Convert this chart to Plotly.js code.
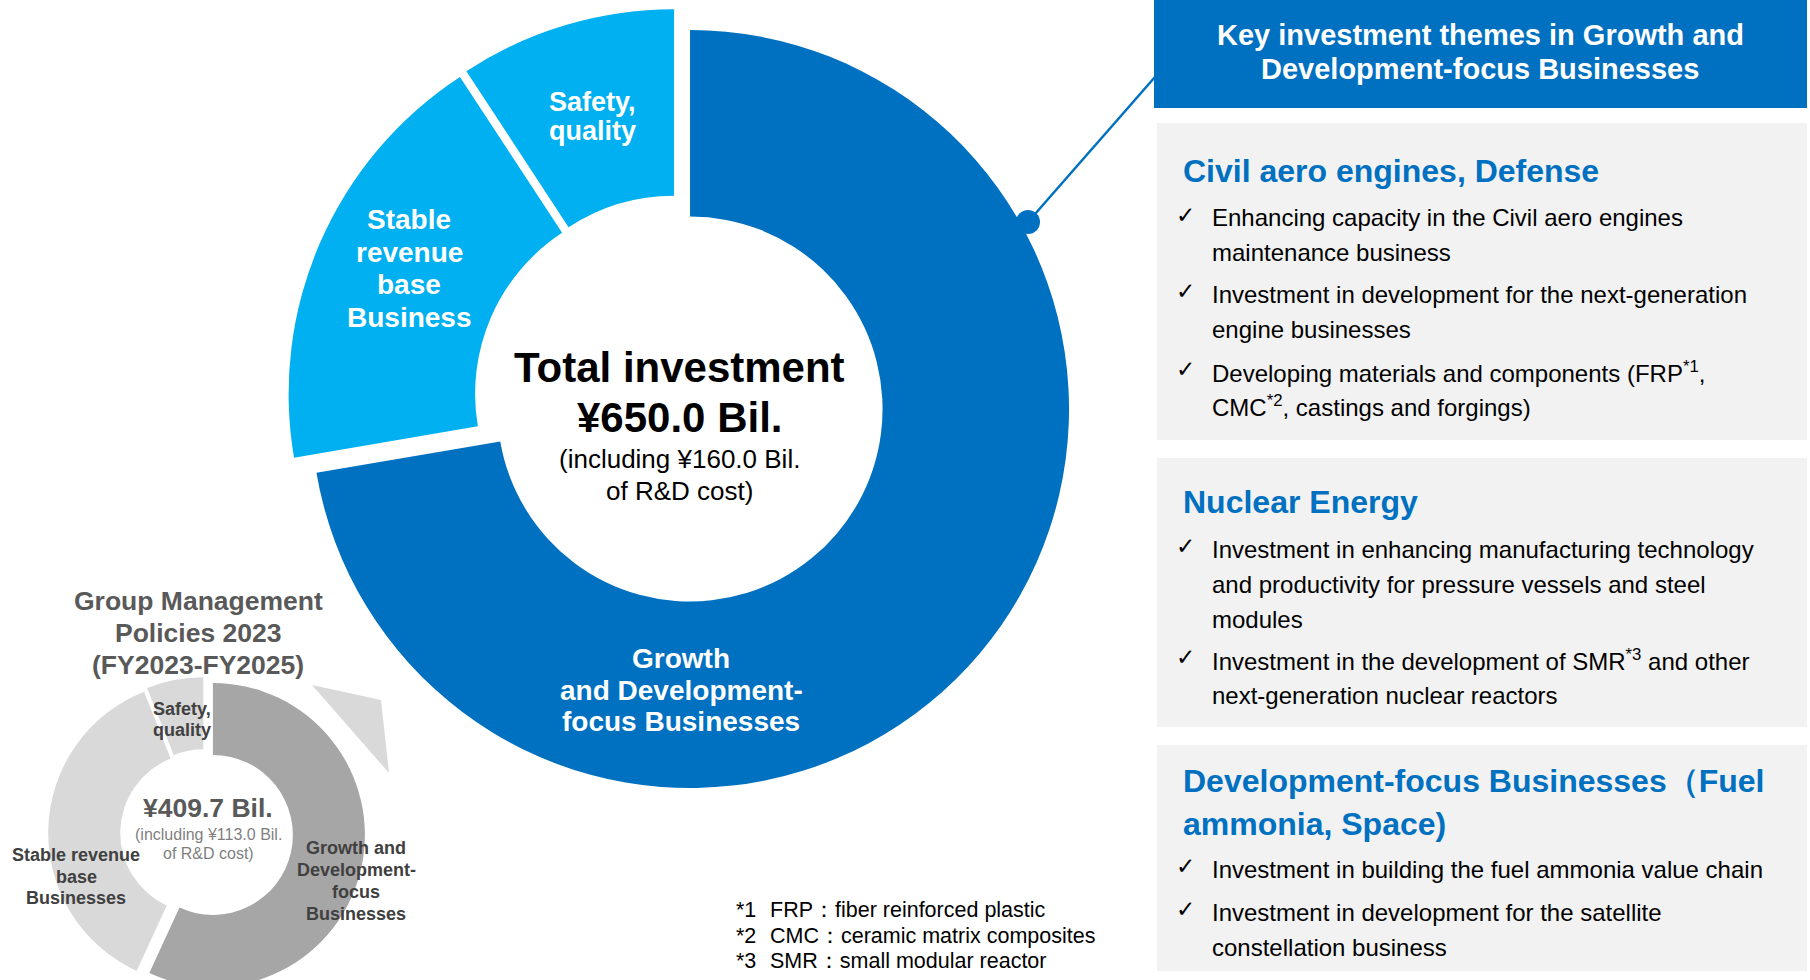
<!DOCTYPE html>
<html><head><meta charset="utf-8">
<script src="https://cdn.plot.ly/plotly-3.0.1.min.js"></script>
<style>html,body{margin:0;padding:0;overflow:hidden;background:#fff}#chart{width:1810px;height:1010px}</style>
</head><body><div id="chart"></div>
<script>
// ---------- DATA ----------
const mainLabels = ['Growth and Development-focus Businesses', 'Stable revenue base Business', 'Safety, quality'];
const mainValues = [470, 120, 60];            // ¥ Bil., total 650.0
const mainPull   = [0.045, 0.027, 0.027];
const mainColors = ['#0070C0', '#00B0F0', '#00B0F0'];
const mainSliceText = [['Growth', 'and Development-', 'focus Businesses'], ['Stable', 'revenue', 'base', 'Business'], ['Safety,', 'quality']];
const mainCenter = ['Total investment', '¥650.0 Bil.', '(including ¥160.0 Bil.', 'of R&D cost)'];

const prevLabels = ['Growth and Development-focus Businesses', 'Stable revenue base Businesses', 'Safety, quality'];
const prevValues = [233.0, 152.0, 24.7];      // ¥ Bil., total 409.7
const prevPull   = [0.06, 0.025, 0.025];
const prevColors = ['#A6A6A6', '#D9D9D9', '#D9D9D9'];
const prevSliceText = [['Growth and', 'Development-', 'focus', 'Businesses'], ['Stable revenue', 'base', 'Businesses'], ['Safety,', 'quality']];
const prevTitle = ['Group Management', 'Policies 2023', '(FY2023-FY2025)'];
const prevCenter = ['¥409.7 Bil.', '(including ¥113.0 Bil.', 'of R&D cost)'];

const headerLines = ['Key investment themes in Growth and', 'Development-focus Businesses'];
const themeHeadings = [['Civil aero engines, Defense'], ['Nuclear Energy'], ['Development-focus Businesses（Fuel', 'ammonia, Space)']];
const themeBullets = [
  [['Enhancing capacity in the Civil aero engines', 'maintenance business'],
   ['Investment in development for the next-generation', 'engine businesses'],
   ['Developing materials and components (FRP<sup>*1</sup>,', 'CMC<sup>*2</sup>, castings and forgings)']],
  [['Investment in enhancing manufacturing technology', 'and productivity for pressure vessels and steel', 'modules'],
   ['Investment in the development of SMR<sup>*3</sup> and other', 'next-generation nuclear reactors']],
  [['Investment in building the fuel ammonia value chain'],
   ['Investment in development for the satellite', 'constellation business']]
];
const footMarks = ['*1', '*2', '*3'];
const footTexts = ['FRP：fiber reinforced plastic', 'CMC：ceramic matrix composites', 'SMR：small modular reactor'];

// ---------- LAYOUT HELPERS ----------
const W = 1810, H = 1010;
const X = v => v / W, Y = v => 1 - v / H;
function dom(cx, cy, r, pull) {
  const half = r * (1 + Math.max(...pull));
  return { x: [Math.max(0, X(cx - half)), Math.min(1, X(cx + half))],
           y: [Math.max(0, Y(cy + half)), Math.min(1, Y(cy - half))] };
}
const FONT = 'Liberation Sans, Arial, Helvetica, sans-serif';
const ann = [];
function txt(x, y, s, size, color, bold, anchor, fam) {
  ann.push({ xref: 'paper', yref: 'paper', x: X(x), y: Y(y), text: bold ? '<b>' + s + '</b>' : s,
    showarrow: false, xanchor: anchor || 'center', yanchor: 'middle',
    font: { family: fam || FONT, size: size, color: color } });
}
function lines(x, ys, arr, size, color, bold, anchor) { arr.forEach((s, i) => txt(x, ys[i], s, size, color, bold, anchor)); }

// ---------- TRACES ----------
const traces = [
  { type: 'pie', labels: mainLabels, values: mainValues, pull: mainPull, hole: 0.508,
    sort: false, direction: 'clockwise', rotation: 0, textinfo: 'none', hoverinfo: 'none',
    marker: { colors: mainColors, line: { width: 0 } }, domain: dom(677, 398, 379, mainPull), showlegend: false },
  { type: 'pie', labels: prevLabels, values: prevValues, pull: prevPull, hole: 0.526,
    sort: false, direction: 'clockwise', rotation: 0, textinfo: 'none', hoverinfo: 'none',
    marker: { colors: prevColors, line: { width: 0 } }, domain: dom(204, 833, 152, prevPull), showlegend: false }
];

// ---------- TEXT ----------
// main donut
lines(681, [658, 690, 721], mainSliceText[0], 28, '#FFFFFF', true);
lines(409, [220, 252, 284, 317], mainSliceText[1], 28, '#FFFFFF', true);
lines(592, [102, 131], mainSliceText[2], 27, '#FFFFFF', true);
txt(679, 367, mainCenter[0], 42, '#000000', true);
txt(679, 418, mainCenter[1], 42, '#000000', true);
txt(679, 459, mainCenter[2], 26, '#000000', false);
txt(679, 491, mainCenter[3], 26, '#000000', false);
// previous plan donut
lines(198, [601, 633, 665], prevTitle, 26.5, '#595959', true);
txt(208, 808, prevCenter[0], 26.5, '#595959', true);
txt(208, 834, prevCenter[1], 16, '#7F7F7F', false);
txt(208, 853, prevCenter[2], 16, '#7F7F7F', false);
lines(356, [848, 870, 892, 914], prevSliceText[0], 18, '#404040', true);
lines(76, [855, 877, 898], prevSliceText[1], 18, '#404040', true);
lines(182, [709, 730], prevSliceText[2], 18, '#404040', true);
// header
lines(1480, [35, 69], headerLines, 29, '#FFFFFF', true);
// theme boxes
const headY = [[171], [502], [781, 824]];
const bulletY = [
  [[218, 252], [294, 329], [372, 406]],
  [[549, 584, 619], [660, 695]],
  [[869], [912, 947]]
];
themeHeadings.forEach((h, i) => lines(1181, headY[i], h, 32, '#0070C0', true, 'left'));
themeBullets.forEach((group, i) => group.forEach((b, j) => {
  txt(1185, bulletY[i][j][0] - 3, '✓', 23, '#000000', false, 'center', 'DejaVu Sans, sans-serif');
  lines(1210, bulletY[i][j], b, 24, '#000000', false, 'left');
}));
// footnotes
footMarks.forEach((m, i) => {
  txt(734, 910 + i * 25.5, m, 21.5, '#000000', false, 'left');
  txt(768, 910 + i * 25.5, footTexts[i], 21.5, '#000000', false, 'left');
});

// ---------- SHAPES ----------
const rect = (x0, y0, x1, y1, c) => ({ type: 'rect', xref: 'paper', yref: 'paper', x0: X(x0), x1: X(x1), y0: Y(y1), y1: Y(y0),
  fillcolor: c, line: { width: 0 }, layer: 'below' });
const shapes = [
  rect(1154, 0, 1807, 108, '#0070C0'),
  rect(1157, 123, 1807, 440, '#F2F2F2'),
  rect(1157, 458, 1807, 727, '#F2F2F2'),
  rect(1157, 745, 1807, 971, '#F2F2F2'),
  { type: 'line', xref: 'paper', yref: 'paper', x0: X(1028), y0: Y(222), x1: X(1155), y1: Y(77), line: { color: '#0070C0', width: 2.5 } },
  { type: 'circle', xref: 'paper', yref: 'paper', x0: X(1016), x1: X(1040), y0: Y(234), y1: Y(210), fillcolor: '#0070C0', line: { width: 0 } },
  { type: 'path', xref: 'paper', yref: 'paper',
    path: 'M' + X(312) + ',' + Y(685) + ' L' + X(381) + ',' + Y(700) + ' L' + X(389) + ',' + Y(773) + ' Z',
    fillcolor: '#D9D9D9', line: { width: 0 } }
];

const layout = {
  width: W, height: H, margin: { l: 0, r: 0, t: 0, b: 0 },
  paper_bgcolor: '#FFFFFF', plot_bgcolor: '#FFFFFF', showlegend: false,
  font: { family: FONT }, annotations: ann, shapes: shapes
};
Plotly.newPlot('chart', traces, layout, { staticPlot: true, displayModeBar: false });
</script></body></html>
